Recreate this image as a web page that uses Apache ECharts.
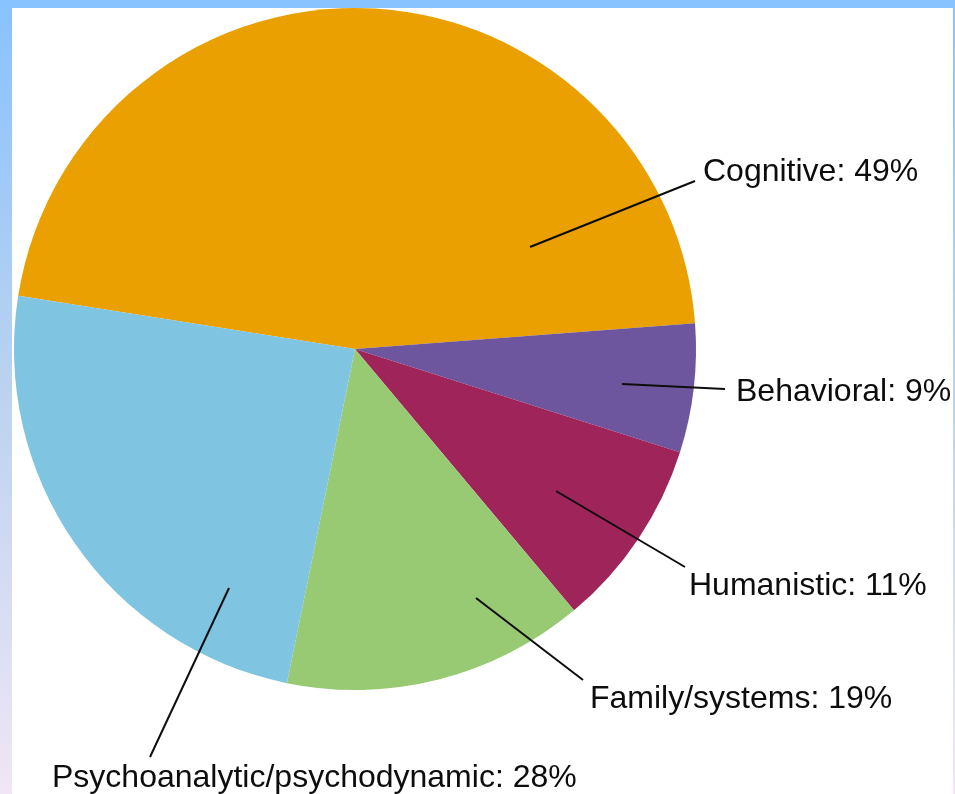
<!DOCTYPE html>
<html>
<head>
<meta charset="utf-8">
<script src="https://cdn.jsdelivr.net/npm/echarts@6/dist/echarts.min.js"></script>
<style>
  html, body { margin: 0; padding: 0; background: #fff; }
  #chart { width: 955px; height: 794px; }
</style>
</head>
<body>
<div id="chart"></div>
<script>
// Categories (clockwise from the left boundary)
const categories = ['Cognitive', 'Behavioral', 'Humanistic', 'Family/systems', 'Psychoanalytic/psychodynamic'];
// Percent values as printed in the labels
const labelPercents = [49, 9, 11, 19, 28];
// Slice sizes (share of the full circle, %)
const sliceValues = [46.3, 6.1, 9.0, 14.3, 24.3];
// Slice colours
const sliceColors = ['#E9A000', '#6D569E', '#9E245A', '#98CA73', '#7FC4E0'];

// Label / leader line placement (pixels): line start, line end, text anchor
const labelPlacement = [
  { start: [530, 247], end: [695, 181], text: [703, 172] },
  { start: [622, 384], end: [725, 389], text: [736, 392] },
  { start: [556, 491], end: [685, 567], text: [689, 586] },
  { start: [476, 598], end: [583, 680], text: [590, 699] },
  { start: [229, 588], end: [150, 757], text: [52, 778] }
];

const chart = echarts.init(document.getElementById('chart'), null, { renderer: 'canvas' });

const sliceData = categories.map((name, i) => ({
  name: name,
  value: sliceValues[i],
  itemStyle: { color: sliceColors[i] }
}));

const labelData = categories.map((name, i) => ({
  name: name,
  value: sliceValues[i],
  pct: labelPercents[i]
}));

const frameGradient = {
  type: 'linear', x: 0, y: 0, x2: 0, y2: 1,
  colorStops: [
    { offset: 0, color: '#88C2FF' },
    { offset: 0.5, color: '#BCD3EF' },
    { offset: 1, color: '#F0E6F6' }
  ]
};

const common = {
  type: 'pie',
  center: [355, 349],
  radius: 341,
  startAngle: 171,
  clockwise: true,
  minAngle: 0,
  avoidLabelOverlap: false,
  emphasis: { disabled: true }
};

chart.setOption({
  backgroundColor: '#ffffff',
  animation: false,
  graphic: [
    { type: 'rect', z: -10, shape: { x: 0, y: 0, width: 12, height: 794 }, style: { fill: frameGradient } },
    { type: 'rect', z: -10, shape: { x: 953, y: 0, width: 2, height: 794 }, style: { fill: frameGradient } },
    { type: 'rect', z: -10, shape: { x: 0, y: 0, width: 955, height: 8 }, style: { fill: '#88C2FF' } }
  ],
  series: [
    Object.assign({}, common, {
      z: 2,
      data: sliceData,
      itemStyle: { borderWidth: 0 },
      label: { show: false },
      labelLine: { show: false }
    }),
    Object.assign({}, common, {
      z: 5,
      silent: true,
      data: labelData,
      itemStyle: { color: 'rgba(0,0,0,0)', borderWidth: 0 },
      label: {
        show: true,
        position: 'outside',
        formatter: (p) => p.name + ': ' + p.data.pct + '%',
        fontFamily: 'Liberation Sans, Arial, sans-serif',
        fontSize: 32,
        color: '#0d0d0d'
      },
      labelLine: {
        show: true,
        length: 10,
        length2: 10,
        smooth: false,
        lineStyle: { color: '#0d0d0d', width: 2 }
      },
      labelLayout: function (params) {
        const p = labelPlacement[params.dataIndex];
        return {
          x: p.text[0],
          y: p.text[1],
          align: 'left',
          verticalAlign: 'middle',
          labelLinePoints: [p.start, p.end, p.end]
        };
      }
    })
  ]
});
</script>
</body>
</html>
